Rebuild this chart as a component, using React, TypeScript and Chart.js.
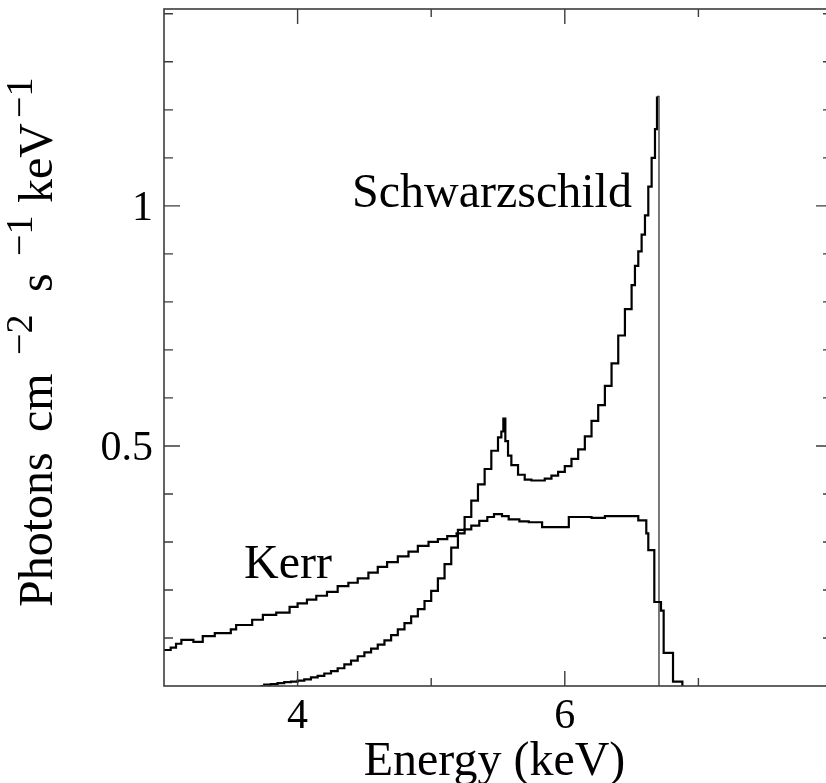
import React, { useEffect, useRef } from "react";
import { Chart, registerables } from "chart.js";

Chart.register(...registerables);

// Kerr spectrum: bin left edges (keV) and flux (photons cm^-2 s^-1 keV^-1)
const kerrEnergy = [3.00, 3.05, 3.09, 3.13, 3.22, 3.29, 3.38, 3.50, 3.54, 3.66, 3.74, 3.84, 3.94, 4.00, 4.07, 4.14, 4.22, 4.30, 4.38, 4.45, 4.53, 4.60, 4.67, 4.75, 4.83, 4.90, 4.98, 5.05, 5.12, 5.19, 5.25, 5.30, 5.36, 5.42, 5.47, 5.53, 5.58, 5.66, 5.73, 5.83, 6.03, 6.20, 6.30, 6.55, 6.61, 6.625, 6.67, 6.72, 6.74, 6.81, 6.88];
const kerrFlux = [0.075, 0.080, 0.088, 0.096, 0.092, 0.104, 0.110, 0.118, 0.127, 0.138, 0.148, 0.153, 0.165, 0.172, 0.180, 0.188, 0.196, 0.208, 0.215, 0.224, 0.236, 0.248, 0.258, 0.270, 0.280, 0.292, 0.300, 0.306, 0.312, 0.318, 0.326, 0.334, 0.344, 0.352, 0.358, 0.354, 0.347, 0.343, 0.341, 0.331, 0.352, 0.350, 0.354, 0.345, 0.318, 0.283, 0.175, 0.157, 0.069, 0.009, 0];

// Schwarzschild spectrum
const schwEnergy = [3.72, 3.75, 3.80, 3.85, 3.90, 3.95, 4.00, 4.05, 4.10, 4.15, 4.20, 4.25, 4.30, 4.35, 4.40, 4.45, 4.50, 4.55, 4.60, 4.65, 4.70, 4.75, 4.80, 4.85, 4.90, 4.95, 5.00, 5.05, 5.10, 5.15, 5.20, 5.25, 5.30, 5.35, 5.40, 5.45, 5.50, 5.525, 5.54, 5.555, 5.575, 5.60, 5.65, 5.70, 5.75, 5.80, 5.85, 5.90, 5.95, 6.00, 6.05, 6.10, 6.15, 6.20, 6.25, 6.30, 6.35, 6.40, 6.45, 6.50, 6.525, 6.55, 6.575, 6.60, 6.625, 6.65, 6.675, 6.69, 6.705];
const schwFlux = [0.000, 0.003, 0.004, 0.006, 0.008, 0.009, 0.011, 0.014, 0.018, 0.021, 0.026, 0.031, 0.037, 0.045, 0.053, 0.062, 0.070, 0.078, 0.086, 0.095, 0.106, 0.118, 0.131, 0.145, 0.160, 0.177, 0.198, 0.224, 0.254, 0.288, 0.325, 0.352, 0.386, 0.420, 0.452, 0.490, 0.518, 0.530, 0.557, 0.510, 0.480, 0.460, 0.440, 0.430, 0.428, 0.428, 0.432, 0.438, 0.446, 0.458, 0.473, 0.493, 0.520, 0.552, 0.585, 0.625, 0.672, 0.730, 0.785, 0.835, 0.875, 0.905, 0.940, 0.980, 1.040, 1.100, 1.160, 1.228, 0];

// Axes
const xMin = 3;
const xMax = 8;
const yMin = 0;
const yMax = 1.41;
const xMajorTicks = [4, 6];
const xMinorTicks = [5, 7];
const xTickLabels = ["4", "6"];
const yMajorTicks = [0.5, 1];
const yMinorTicks = [0.1, 0.2, 0.3, 0.4, 0.6, 0.7, 0.8, 0.9, 1.1, 1.2, 1.3, 1.4];
const yTickLabels = ["0.5", "1"];

const SERIF = '"Liberation Serif", "Times New Roman", serif';

const framePlugin = {
  id: "frameTicks",
  afterDatasetsDraw(chart: any) {
    const { ctx, chartArea: a, scales } = chart;
    const xs = scales.x;
    const ys = scales.y;
    ctx.save();
    ctx.strokeStyle = "#3c3c3c";
    ctx.lineWidth = 1.6;
    ctx.strokeRect(a.left, a.top, a.right - a.left, a.bottom - a.top);

    ctx.lineWidth = 1.4;
    const vTick = (px: number, len: number) => {
      ctx.beginPath();
      ctx.moveTo(px, a.bottom);
      ctx.lineTo(px, a.bottom - len);
      ctx.moveTo(px, a.top);
      ctx.lineTo(px, a.top + len);
      ctx.stroke();
    };
    const hTick = (py: number, len: number) => {
      ctx.beginPath();
      ctx.moveTo(a.left, py);
      ctx.lineTo(a.left + len, py);
      ctx.moveTo(a.right, py);
      ctx.lineTo(a.right - len, py);
      ctx.stroke();
    };
    xMajorTicks.forEach((v) => vTick(xs.getPixelForValue(v), 15));
    xMinorTicks.forEach((v) => vTick(xs.getPixelForValue(v), 8));
    yMajorTicks.forEach((v) => hTick(ys.getPixelForValue(v), 16));
    yMinorTicks.forEach((v) => hTick(ys.getPixelForValue(v), 9));

    ctx.fillStyle = "#000";
    ctx.textBaseline = "alphabetic";

    // x tick labels
    ctx.font = `42px ${SERIF}`;
    ctx.textAlign = "center";
    xMajorTicks.forEach((v, i) => {
      ctx.fillText(xTickLabels[i], xs.getPixelForValue(v), a.bottom + 42);
    });
    // y tick labels
    ctx.textAlign = "right";
    yMajorTicks.forEach((v, i) => {
      ctx.fillText(yTickLabels[i], a.left - 11, ys.getPixelForValue(v) + 14);
    });

    // x title
    ctx.font = `48px ${SERIF}`;
    ctx.textAlign = "center";
    ctx.fillText("Energy (keV)", (a.left + 825) / 2, 775);

    // curve annotations
    ctx.fillText("Schwarzschild", 492, 207);
    ctx.fillText("Kerr", 288, 578);

    // y title, rotated with superscripts
    ctx.save();
    ctx.translate(52, 0);
    ctx.rotate(-Math.PI / 2);
    ctx.textAlign = "left";
    const big = `48px ${SERIF}`;
    const small = `38px ${SERIF}`;
    const put = (text: string, startY: number, font: string, raise: number) => {
      ctx.font = font;
      ctx.fillText(text, -startY, -raise);
    };
    put("Photons", 607, big, 0);
    put("cm", 432, big, 0);
    put("\u22122", 355, small, 20);
    put("s", 292, big, 0);
    put("\u22121", 256, small, 20);
    put("keV", 203, big, 0);
    ctx.font = big;
    const kw = ctx.measureText("keV").width;
    put("\u22121", 203 - kw - 5, small, 20);
    ctx.restore();

    ctx.restore();
  },
};

export default function App() {
  const ref = useRef<HTMLCanvasElement | null>(null);

  useEffect(() => {
    if (!ref.current) return;
    const kerr = kerrEnergy.map((x, i) => ({ x, y: kerrFlux[i] }));
    const schw = schwEnergy.map((x, i) => ({ x, y: schwFlux[i] }));
    const lastSchw = schwEnergy.length - 1;
    const chart = new Chart(ref.current, {
      type: "line",
      data: {
        datasets: [
          {
            label: "Kerr",
            data: kerr,
            stepped: "before",
            borderColor: "#000",
            borderWidth: 2.2,
            pointRadius: 0,
            fill: false,
          },
          {
            label: "Schwarzschild",
            data: schw,
            stepped: "before",
            borderColor: "#000",
            borderWidth: 2.2,
            pointRadius: 0,
            fill: false,
            segment: {
              borderWidth: (c: any) => (c.p1DataIndex === lastSchw ? 1.3 : 2.2),
              borderColor: (c: any) => (c.p1DataIndex === lastSchw ? "#333" : "#000"),
            },
          },
        ],
      },
      options: {
        responsive: false,
        animation: false,
        devicePixelRatio: 1,
        layout: { padding: { left: 164, right: 2, top: 9, bottom: 97 } },
        scales: {
          x: { type: "linear", min: xMin, max: xMax, display: false },
          y: { type: "linear", min: yMin, max: yMax, display: false },
        },
        plugins: { legend: { display: false }, tooltip: { enabled: false } },
      },
      plugins: [framePlugin],
    });
    return () => chart.destroy();
  }, []);

  return (
    <div
      style={{
        position: "fixed",
        left: 0,
        top: 0,
        width: 826,
        height: 783,
        overflow: "hidden",
        background: "#fff",
      }}
    >
      <canvas ref={ref} width={834} height={783} style={{ display: "block" }} />
    </div>
  );
}
